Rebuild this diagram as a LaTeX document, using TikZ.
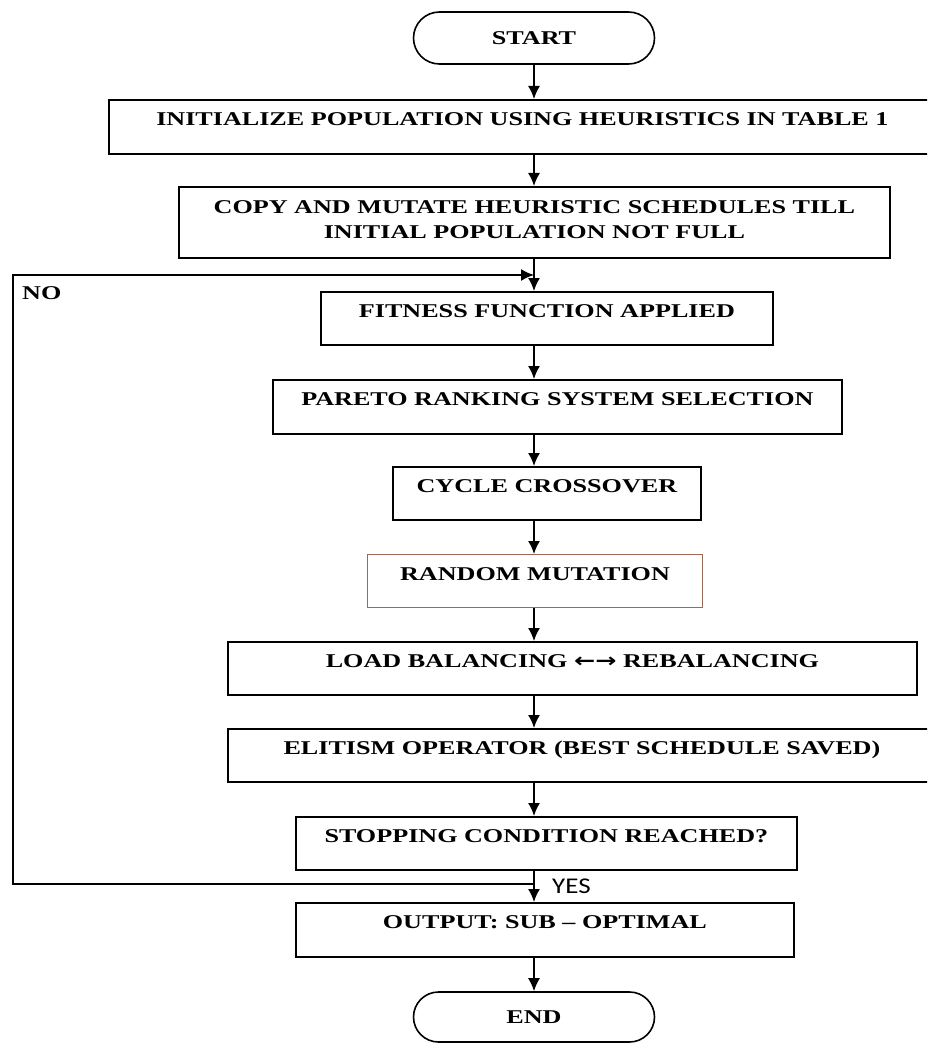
\documentclass[tikz,border=0pt]{standalone}
\usepackage{fontspec}
\setmainfont{Liberation Serif}[FakeStretch=1.34]
\newfontfamily\yesfont{Carlito}[FakeStretch=1.2]
\newfontfamily\arrowfont{DejaVu Sans}[FakeStretch=1.3]
\usetikzlibrary{arrows.meta,shapes.misc}
\definecolor{mutbrown}{HTML}{9A6A55}

\begin{document}
\begin{tikzpicture}[x=1pt,y=-1pt,>={Latex[length=13pt,width=12pt]},
  stepbox/.style={draw,line width=1.8pt,rectangle,inner sep=0pt,anchor=north west,
    text height=25.5pt,text depth=27.5pt,font=\fontsize{19.5pt}{25pt}\selectfont\bfseries},
  termbox/.style={draw,line width=1.6pt,rounded rectangle,inner sep=0pt,minimum width=241pt,
    font=\fontsize{19.5pt}{25pt}\selectfont\bfseries},
  flow/.style={->,line width=1.5pt}]
  \useasboundingbox (0,0) rectangle (927,1043);
  \clip (0,0) rectangle (927,1043);
  % spine and loop corners
  \coordinate (spine) at (534,0);
  \coordinate (loopx) at (13,0);
  \coordinate (yesturn) at (534,884);
  \coordinate (noturn) at (534,275);
  % steps
  \node[termbox,minimum height=52pt] (start) at (534,38) {START};
  \node[stepbox,minimum width=827pt,text depth=28.5pt] (init) at (108,99) {INITIALIZE POPULATION USING HEURISTICS IN TABLE 1};
  \node[stepbox,minimum width=711pt,text height=27pt,text depth=44pt] (copy) at (178,186)
    {\begin{tabular}[t]{@{}c@{}}COPY AND MUTATE HEURISTIC SCHEDULES TILL\\INITIAL POPULATION NOT FULL\end{tabular}};
  \node[stepbox,minimum width=452pt] (fitness) at (320,291) {FITNESS FUNCTION APPLIED};
  \node[stepbox,minimum width=569pt,text depth=28.5pt] (pareto) at (272,379) {PARETO RANKING SYSTEM SELECTION};
  \node[stepbox,minimum width=308pt] (cycle) at (392,466) {CYCLE CROSSOVER};
  \node[stepbox,minimum width=335pt,draw=mutbrown,line width=1pt] (random) at (367,554) {RANDOM MUTATION};
  \node[stepbox,minimum width=689pt] (load) at (227,641) {LOAD BALANCING {\arrowfont\bfseries ←→} REBALANCING};
  \node[stepbox,minimum width=708pt] (elitism) at (227,728) {ELITISM OPERATOR (BEST SCHEDULE SAVED)};
  \node[stepbox,minimum width=501pt] (stopping) at (295,816) {STOPPING CONDITION REACHED?};
  \node[stepbox,minimum width=498pt,text depth=28.5pt] (output) at (295,902) {OUTPUT: SUB -- OPTIMAL};
  \node[termbox,minimum height=50pt] (end) at (534,1017) {END};
  % labels
  \node[anchor=base west,inner sep=0pt,font=\fontsize{19.5pt}{25pt}\selectfont\bfseries] (nolabel) at (22,299) {NO};
  \node[anchor=base west,inner sep=0pt,font=\yesfont\fontsize{22.5pt}{26pt}\selectfont] (yeslabel) at (552,893) {YES};
  % flow
  \draw[flow] (start.south -| spine) -- (init.north -| spine);
  \draw[flow] (init.south -| spine) -- (copy.north -| spine);
  \draw[flow] (copy.south -| spine) -- (fitness.north -| spine);
  \draw[flow] (fitness.south -| spine) -- (pareto.north -| spine);
  \draw[flow] (pareto.south -| spine) -- (cycle.north -| spine);
  \draw[flow] (cycle.south -| spine) -- (random.north -| spine);
  \draw[flow] (random.south -| spine) -- (load.north -| spine);
  \draw[flow] (load.south -| spine) -- (elitism.north -| spine);
  \draw[flow] (elitism.south -| spine) -- (stopping.north -| spine);
  \draw[flow] (stopping.south -| spine) -- (output.north -| spine);
  \draw[flow] (output.south -| spine) -- (end.north -| spine);
  % loop back
  \draw[flow] (yesturn) -- (yesturn -| loopx) -- (noturn -| loopx) -- (noturn);
\end{tikzpicture}
\end{document}
